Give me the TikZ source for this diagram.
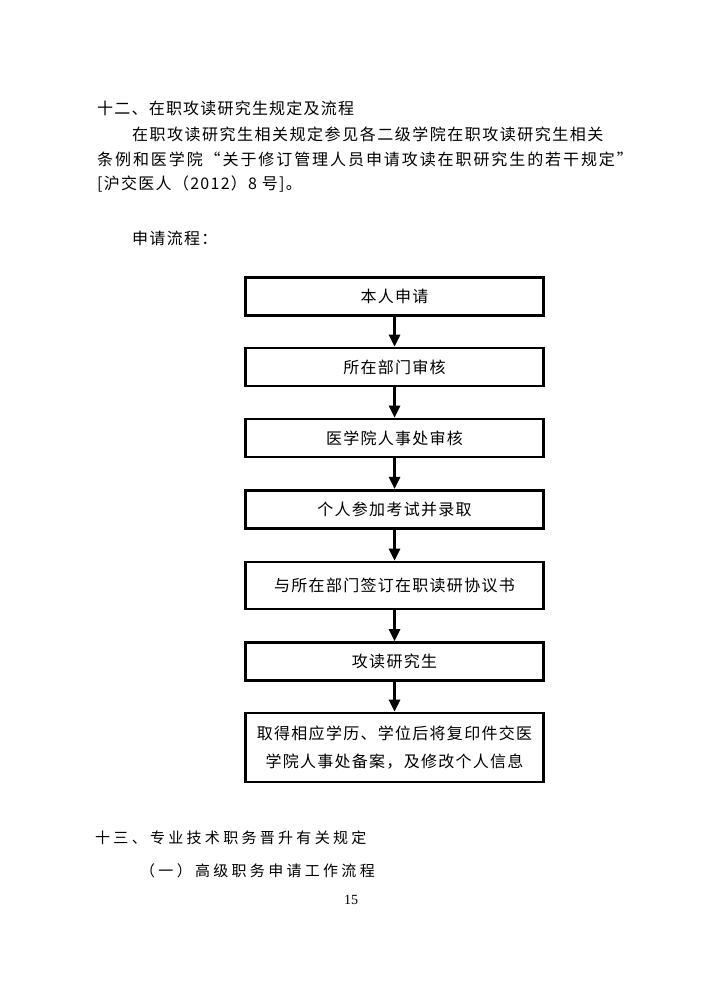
\documentclass[tikz,border=0pt]{standalone}
\usepackage{fontspec}
\setmainfont{Noto Sans CJK SC}
\newfontfamily\numfont{Liberation Serif}
\usetikzlibrary{arrows.meta}
\newcommand{\lsfont}[2]{\fontsize{#1}{#1}\selectfont\addfontfeatures{LetterSpace=#2}}
\begin{document}
\begin{tikzpicture}[x=1pt,y=-1pt,
  flowbox/.style={draw, line width=2.6pt, minimum width=298.5pt, inner sep=0pt,
    align=center, font=\fontsize{16}{28}\selectfont\addfontfeatures{LetterSpace=8}},
  flowarrow/.style={-{Triangle[width=11pt,length=12pt]}, line width=2.6pt},
  textline/.style={anchor=west, inner sep=0pt}]
\fill[white] (0,0) rectangle (702,992);
\useasboundingbox (0,0) rectangle (702,992);

% body text
\node[textline, font=\lsfont{16}{7.5}] (t1) at (97,108) {十二、在职攻读研究生规定及流程};
\node[textline, font=\lsfont{16}{9.4}] (t2) at (132,134) {在职攻读研究生相关规定参见各二级学院在职攻读研究生相关};
\node[textline, font=\lsfont{16}{12}] (t3) at (97,159) {条例和医学院“关于修订管理人员申请攻读在职研究生的若干规定”};
\node[textline, font=\lsfont{16}{8}] (t4) at (97,184) {[沪交医人（2012）8 号]。};
\node[textline, font=\lsfont{16}{8}] (t5) at (132,238) {申请流程：};

% flow boxes
\node[flowbox, minimum height=38.5pt] (b1) at (394.5,296.5) {本人申请};
\node[flowbox, minimum height=38pt] (b2) at (394.5,367) {所在部门审核};
\node[flowbox, minimum height=38pt] (b3) at (394.5,438) {医学院人事处审核};
\node[flowbox, minimum height=38.5pt] (b4) at (394.5,509.5) {个人参加考试并录取};
\node[flowbox, minimum height=47pt] (b5) at (394.5,585.5) {与所在部门签订在职读研协议书};
\node[flowbox, minimum height=38pt] (b6) at (394.5,661.5) {攻读研究生};
\node[flowbox, minimum height=69pt] (b7) at (394.5,747.5) {取得相应学历、学位后将复印件交医\\学院人事处备案，及修改个人信息};

\draw[flowarrow] (b1.south) -- (b2.north);
\draw[flowarrow] (b2.south) -- (b3.north);
\draw[flowarrow] (b3.south) -- (b4.north);
\draw[flowarrow] (b4.south) -- (b5.north);
\draw[flowarrow] (b5.south) -- (b6.north);
\draw[flowarrow] (b6.south) -- (b7.north);

% following text
\node[textline, font=\lsfont{15}{22}] (t6) at (95,838) {十三、专业技术职务晋升有关规定};
\node[textline, font=\lsfont{15}{22}] (t7) at (140,871) {（一）高级职务申请工作流程};
\node[inner sep=0pt, font=\numfont\fontsize{14}{14}\selectfont] (pg) at (351,900) {15};
\end{tikzpicture}
\end{document}
